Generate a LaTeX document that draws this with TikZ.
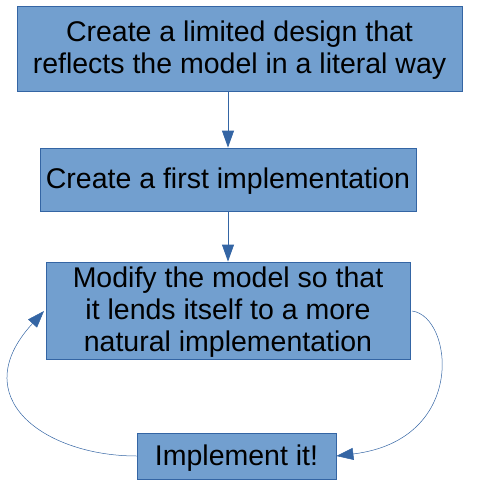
\documentclass[tikz,border=0pt]{standalone}
\usepackage{fontspec}
\setmainfont{Liberation Sans}
\usetikzlibrary{arrows.meta}
\definecolor{boxfill}{HTML}{729FCF}
\definecolor{boxline}{HTML}{3465A4}
\newcommand{\lowtext}[1]{\raisebox{-3pt}[\height][\depth]{\begin{tabular}{@{}c@{}}#1\end{tabular}}}
\begin{document}
\begin{tikzpicture}[x=1pt,y=-1pt,
  stepbox/.style={draw=boxline,fill=boxfill,line width=0.8pt,inner sep=0pt,
    font=\fontsize{28.5}{32}\selectfont,text=black},
  conn/.style={draw=boxline,line width=0.8pt,-{Triangle[length=17pt,width=12pt]}},
  loop/.style={draw=boxline,line width=0.5pt,-{Triangle[length=17pt,width=12pt]}}]
\useasboundingbox (0,0) rectangle (480,480);
\node[stepbox,minimum width=445pt,minimum height=85pt] (a) at (239.5,48.5)
  {\lowtext{Create a limited design that\\reflects the model in a literal way}};
\node[stepbox,minimum width=376pt,minimum height=63pt] (b) at (228,179.5)
  {\lowtext{Create a first implementation}};
\node[stepbox,minimum width=364pt,minimum height=97pt] (c) at (228,310.5)
  {\lowtext{Modify the model so that\\it lends itself to a more\\natural implementation}};
\node[stepbox,minimum width=199pt,minimum height=46pt] (d) at (236.5,456)
  {\lowtext{Implement it!}};
\draw[conn] (a.south -| b.north) -- (b.north);
\draw[conn] (b.south) -- (c.north);
\coordinate (cr) at (412,311);
\coordinate (cl) at (44,311);
\draw[loop] (cr) .. controls (453,316) and (468,440) .. (d.east);
\draw[loop] (d.west) .. controls (45,456) and (-36,398) .. (cl);
\end{tikzpicture}
\end{document}
